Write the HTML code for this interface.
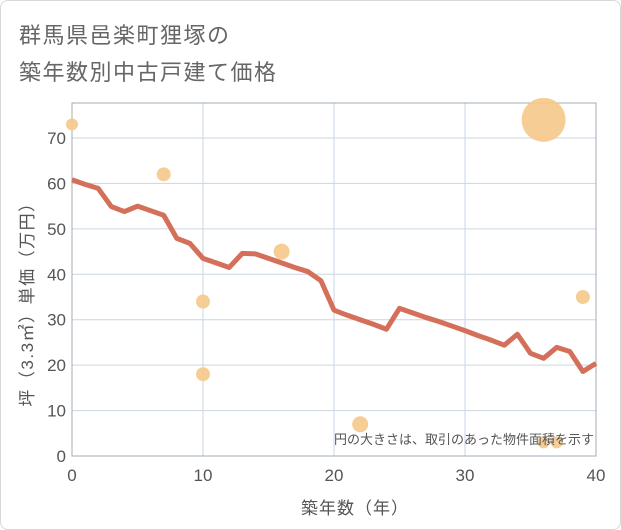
<!DOCTYPE html>
<html><head><meta charset="utf-8"><style>
body{margin:0;background:#fff;font-family:"Liberation Sans","Noto Sans CJK JP",sans-serif;}
#wrap{position:relative;width:619px;height:528px;border:1px solid #d8d8d8;border-radius:8px;overflow:hidden;background:#fff}
.t{position:absolute;left:18px;font-size:22px;color:#666;letter-spacing:1.5px;white-space:nowrap}
</style></head><body>
<div id="wrap">
<div class="t" style="top:17px">群馬県邑楽町狸塚の</div>
<div class="t" style="top:54px">築年数別中古戸建て価格</div>
<svg id="c" width="621" height="530" style="position:absolute;left:-1px;top:-1px"></svg>
</div>
<script>
const lineYears=[0,1,2,3,4,5,6,7,8,9,10,11,12,13,14,15,16,17,18,19,20,21,22,23,24,25,26,27,28,29,30,31,32,33,34,35,36,37,38,39,40];
const lineValues=[60.8,59.8,58.9,54.9,53.8,55.0,54.0,53.0,47.9,46.8,43.5,42.5,41.5,44.6,44.5,43.5,42.5,41.5,40.6,38.6,32.1,31.0,30.0,29.0,27.9,32.5,31.5,30.5,29.6,28.6,27.6,26.5,25.5,24.4,26.8,22.6,21.5,23.9,23.0,18.6,20.4];
const bubbleYears=[0,7,10,10,16,22,36,39,36,37];
const bubbleValues=[73,62,34,18,45,7,74,35,3,3];
const bubbleAreas=[36,49,49,49,64,64,484,49,36,36];
const xTicks=[0,10,20,30,40];
const yTicks=[0,10,20,30,40,50,60,70];
const NS="http://www.w3.org/2000/svg";
const svg=document.getElementById('c');
const L=72,R=596,T=103,B=456;
const xs=v=>L+(v/40)*(R-L);
const ys=v=>B-v*4.543;
function mk(t,a,p){const e=document.createElementNS(NS,t);for(const k in a)e.setAttribute(k,a[k]);(p||svg).appendChild(e);return e;}
const bg=mk('rect',{x:L,y:T,width:R-L,height:B-T,fill:'#fff'});


yTicks.forEach(v=>{
 const g=mk('line',{x1:L,x2:R,y1:ys(v),y2:ys(v),stroke:'#c9d6e3','stroke-width':1});
 
 
 const t=mk('text',{x:L-6,y:ys(v)+6,'text-anchor':'end','font-size':17,fill:'#555'});
 t.textContent=v;
 
 
});
xTicks.forEach(v=>{
 const g=mk('line',{x1:xs(v),x2:xs(v),y1:T,y2:B,stroke:'#c9d6e3','stroke-width':1});
 
 
 const t=mk('text',{x:xs(v),y:B+25,'text-anchor':'middle','font-size':17,fill:'#555'});
 t.textContent=v;
 
 
});
const fr=mk('rect',{x:L,y:T,width:R-L,height:B-T,fill:'none',stroke:'#a0acb8','stroke-width':1});


bubbleYears.forEach((yr,i)=>{
 const c=mk('circle',{cx:xs(yr),cy:ys(bubbleValues[i]),r:Math.sqrt(bubbleAreas[i]),fill:'#f5c98a','fill-opacity':0.9});
 
 
});
const pl=mk('polyline',{points:lineYears.map((y,i)=>xs(y)+','+ys(lineValues[i])).join(' '),fill:'none',stroke:'#d4705a','stroke-width':5,'stroke-linejoin':'round'});


const note=mk('text',{x:594,y:444,'text-anchor':'end','font-size':13,fill:'#555'});
note.textContent='円の大きさは、取引のあった物件面積を示す';


const xl=mk('text',{x:355,y:514,'text-anchor':'middle','font-size':17,fill:'#555','letter-spacing':1});
xl.textContent='築年数（年）';


const yl=mk('text',{x:0,y:0,'text-anchor':'middle','font-size':17,fill:'#555','letter-spacing':1.5,transform:'translate(33,300) rotate(-90)'});
yl.textContent='坪（3.3㎡）単価（万円）';


</script>
</body></html>
